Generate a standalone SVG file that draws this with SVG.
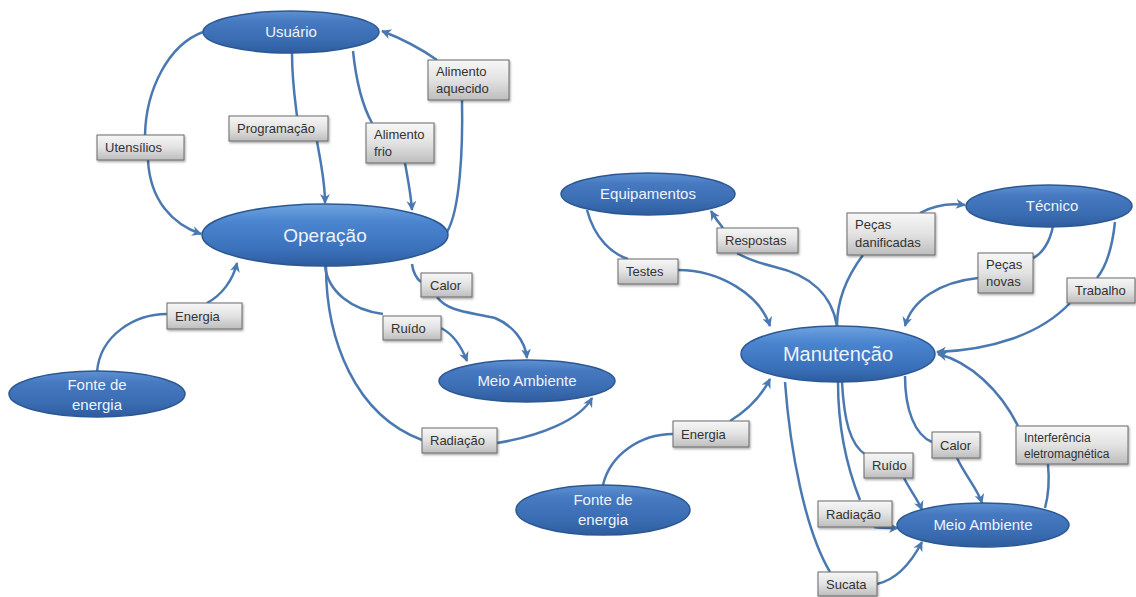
<svg xmlns="http://www.w3.org/2000/svg" width="1136" height="597" viewBox="0 0 1136 597">
<defs>
<linearGradient id="gBlue" x1="0" y1="0" x2="0" y2="1">
<stop offset="0" stop-color="#5f92d2"/>
<stop offset="0.25" stop-color="#4679c0"/>
<stop offset="0.7" stop-color="#3a6cb2"/>
<stop offset="1" stop-color="#2e5d9e"/>
</linearGradient>
<linearGradient id="gMain" x1="0" y1="0" x2="0" y2="1">
<stop offset="0" stop-color="#6fa3e0"/>
<stop offset="0.3" stop-color="#4a84cf"/>
<stop offset="0.75" stop-color="#3a70ba"/>
<stop offset="1" stop-color="#2d5c9e"/>
</linearGradient>
<linearGradient id="gBox" x1="0" y1="0" x2="0" y2="1">
<stop offset="0" stop-color="#f7f7f7"/>
<stop offset="0.5" stop-color="#e2e2e2"/>
<stop offset="1" stop-color="#bdbdbd"/>
</linearGradient>
<filter id="sh" x="-10%" y="-10%" width="130%" height="140%">
<feDropShadow dx="1" dy="1.5" stdDeviation="1" flood-color="#000" flood-opacity="0.35"/>
</filter>
<marker id="ar" viewBox="0 0 10 10" refX="9" refY="5" markerWidth="4" markerHeight="4" orient="auto" markerUnits="strokeWidth">
<path d="M0,0 L10,5 L0,10 L3,5 z" fill="#4a78b0"/>
</marker>
</defs>
<style>
.n ellipse{fill:url(#gBlue);stroke:#2c5891;stroke-width:1.5}
.m ellipse{fill:url(#gMain);stroke:#2c5891;stroke-width:1.5}
.n text,.m text{font-family:"Liberation Sans",Arial,sans-serif;fill:#eef3fb;text-anchor:middle}
.n text{font-size:15px}
.m text{font-size:20px}
.l rect{fill:url(#gBox);stroke:#6b6b6b;stroke-width:1;filter:url(#sh)}
.l text{font-family:"Liberation Sans",Arial,sans-serif;font-size:13px;fill:#333}
#connectors path{fill:none;stroke:#4a78b0;stroke-width:2.5}
#connectors path.a{marker-end:url(#ar)}
</style>
<rect width="1136" height="597" fill="#ffffff"/>

<g id="connectors">
<!-- Utensilios -->
<path d="M203,32 C168,45 146,90 145,135"/>
<path class="a" d="M148,160 C150,200 172,224 201,234"/>
<!-- Programacao -->
<path d="M292,53 C292,80 295,100 297,116"/>
<path class="a" d="M317,141 C320,160 325,180 325,203"/>
<!-- Alimento frio -->
<path d="M353,51 C356,80 362,105 372,123"/>
<path class="a" d="M405,163 C408,180 411,195 412,210"/>
<!-- Alimento aquecido -->
<path d="M447,232 C460,210 463,150 462,100"/>
<path class="a" d="M437,60 C420,48 400,38 382,31"/>
<!-- Energia left -->
<path d="M97,372 C100,335 135,314 167,314"/>
<path class="a" d="M207,303 C222,295 233,280 237,263"/>
<!-- Calor left -->
<path d="M412,264 C413,272 416,278 421,282"/>
<path class="a" d="M437,297 C448,312 470,312 495,318 C512,325 525,340 527,358"/>
<!-- Ruido left -->
<path d="M325,266 C328,292 352,310 383,314"/>
<path class="a" d="M441,328 C455,335 462,348 467,361"/>
<!-- Radiacao left -->
<path d="M326,266 C326,340 355,415 422,440"/>
<path class="a" d="M497,443 C540,436 580,420 592,398"/>
<!-- Testes -->
<path d="M587,210 C595,240 613,254 628,259"/>
<path class="a" d="M678,270 C720,270 760,295 770,326"/>
<!-- Respostas -->
<path d="M837,326 C832,295 810,275 775,267 C755,262 745,258 737,253"/>
<path class="a" d="M723,228 C718,222 714,216 711,211"/>
<!-- Pecas danificadas -->
<path d="M837,326 C837,300 848,275 863,255"/>
<path class="a" d="M920,213 C935,205 950,203 965,205"/>
<!-- Pecas novas -->
<path d="M1053,226 C1050,242 1042,254 1033,258"/>
<path class="a" d="M978,278 C940,282 912,300 905,326"/>
<!-- Trabalho -->
<path d="M1115,222 C1112,250 1105,268 1097,278"/>
<path class="a" d="M1070,303 C1040,335 990,350 937,352"/>
<!-- Energia right -->
<path d="M603,485 C610,455 640,434 673,434"/>
<path class="a" d="M730,421 C748,410 762,395 770,379"/>
<!-- Sucata -->
<path d="M785,382 C790,450 805,530 830,572"/>
<path class="a" d="M877,584 C895,580 910,565 922,542"/>
<!-- Radiacao right -->
<path d="M838,382 C838,430 848,470 860,500"/>
<path class="a" d="M874,527 C880,528 888,528 898,528"/>
<!-- Ruido right -->
<path d="M842,382 C844,420 850,445 866,455"/>
<path class="a" d="M904,478 C910,490 918,500 922,510"/>
<!-- Calor right -->
<path d="M905,376 C905,410 915,435 932,442"/>
<path class="a" d="M957,458 C965,475 978,490 982,503"/>
<!-- Interferencia -->
<path d="M1045,508 C1050,490 1049,475 1048,464"/>
<path class="a" d="M1018,426 C1000,390 970,362 938,354"/>
</g>

<g id="node-usuario" class="n"><ellipse cx="291" cy="32" rx="88" ry="21"/><text x="291" y="37">Usuário</text></g>
<g id="node-operacao" class="m"><ellipse cx="325" cy="235" rx="123" ry="31"/><text x="325" y="242" style="font-size:19px">Operação</text></g>
<g id="node-meio1" class="n"><ellipse cx="527" cy="381" rx="88" ry="21"/><text x="527" y="386">Meio Ambiente</text></g>
<g id="node-fonte1" class="n"><ellipse cx="97" cy="394" rx="88" ry="23"/><text x="97" y="390">Fonte de</text><text x="97" y="410">energia</text></g>
<g id="node-equip" class="n"><ellipse cx="648" cy="194" rx="87" ry="21"/><text x="648" y="199">Equipamentos</text></g>
<g id="node-tecnico" class="n"><ellipse cx="1049" cy="206" rx="83" ry="21"/><text x="1052" y="211">Técnico</text></g>
<g id="node-manut" class="m"><ellipse cx="838" cy="354" rx="97" ry="28"/><text x="838" y="361">Manutenção</text></g>
<g id="node-fonte2" class="n"><ellipse cx="603" cy="510" rx="87" ry="25"/><text x="603" y="505">Fonte de</text><text x="603" y="525">energia</text></g>
<g id="node-meio2" class="n"><ellipse cx="983" cy="525" rx="86" ry="22"/><text x="983" y="530">Meio Ambiente</text></g>

<g id="lbl-utensilios" class="l"><rect x="97" y="135" width="87" height="25"/><text x="105" y="152">Utensílios</text></g>
<g id="lbl-programacao" class="l"><rect x="229" y="116" width="99" height="25"/><text x="237" y="133">Programação</text></g>
<g id="lbl-alfrio" class="l"><rect x="366" y="123" width="68" height="40"/><text x="374" y="139">Alimento</text><text x="374" y="156">frio</text></g>
<g id="lbl-alaquec" class="l"><rect x="428" y="60" width="81" height="40"/><text x="436" y="76">Alimento</text><text x="436" y="93">aquecido</text></g>
<g id="lbl-energia1" class="l"><rect x="167" y="303" width="75" height="26"/><text x="175" y="321">Energia</text></g>
<g id="lbl-calor1" class="l"><rect x="421" y="273" width="51" height="24"/><text x="430" y="290">Calor</text></g>
<g id="lbl-ruido1" class="l"><rect x="383" y="316" width="58" height="24"/><text x="391" y="333">Ruído</text></g>
<g id="lbl-radiacao1" class="l"><rect x="422" y="428" width="75" height="25"/><text x="430" y="445">Radiação</text></g>
<g id="lbl-testes" class="l"><rect x="618" y="259" width="60" height="25"/><text x="626" y="276">Testes</text></g>
<g id="lbl-respostas" class="l"><rect x="717" y="228" width="81" height="25"/><text x="725" y="245">Respostas</text></g>
<g id="lbl-pecasdan" class="l"><rect x="847" y="213" width="88" height="42"/><text x="855" y="229">Peças</text><text x="855" y="247">danificadas</text></g>
<g id="lbl-pecasnov" class="l"><rect x="978" y="253" width="55" height="40"/><text x="986" y="269">Peças</text><text x="986" y="286">novas</text></g>
<g id="lbl-trabalho" class="l"><rect x="1067" y="278" width="68" height="25"/><text x="1075" y="295">Trabalho</text></g>
<g id="lbl-energia2" class="l"><rect x="673" y="421" width="76" height="26"/><text x="681" y="439">Energia</text></g>
<g id="lbl-calor2" class="l"><rect x="932" y="432" width="48" height="26"/><text x="940" y="450">Calor</text></g>
<g id="lbl-interf" class="l"><rect x="1016" y="426" width="112" height="38"/><text x="1024" y="442" style="font-size:12px">Interferência</text><text x="1024" y="458" style="font-size:12px">eletromagnética</text></g>
<g id="lbl-ruido2" class="l"><rect x="864" y="453" width="49" height="25"/><text x="872" y="470">Ruído</text></g>
<g id="lbl-radiacao2" class="l"><rect x="818" y="501" width="74" height="26"/><text x="826" y="519">Radiação</text></g>
<g id="lbl-sucata" class="l"><rect x="818" y="572" width="59" height="24"/><text x="826" y="589">Sucata</text></g>
</svg>
